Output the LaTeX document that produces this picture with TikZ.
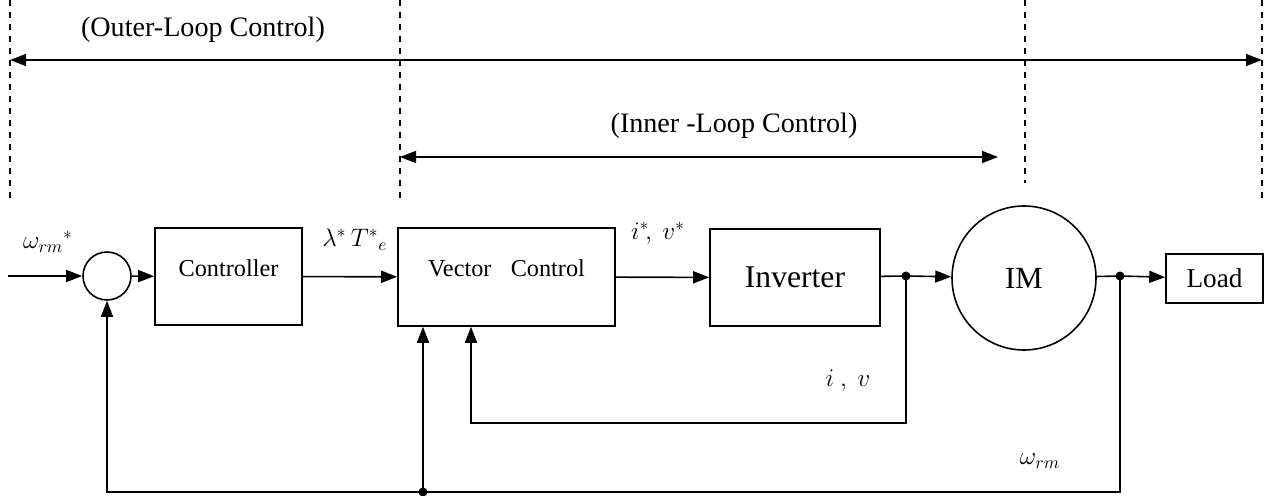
\documentclass[tikz,border=0pt]{standalone}
\usepackage{fontspec}
\setmainfont{Liberation Serif}
\usetikzlibrary{arrows.meta}
\tikzset{%
	block/.style    = {draw, rectangle, line width=0.9pt, inner sep=0pt, text centered},
	sumnode/.style  = {draw, circle, line width=0.9pt, minimum size=9.6mm, inner sep=0pt},
	motor/.style    = {draw, circle, line width=0.9pt, minimum size=28.8mm, inner sep=0pt},
	arrow/.style    = {line width=0.9pt, -{Triangle[length=3.2mm,width=2.4mm]}},
	span/.style     = {line width=0.9pt, {Triangle[length=3.2mm,width=2.4mm]}-{Triangle[length=3.2mm,width=2.4mm]}},
	guide/.style    = {line width=0.8pt, dash pattern=on 1.2mm off 1.2mm},
	dot/.style      = {circle, fill, inner sep=0pt, minimum size=1.8mm},
	sig/.style      = {font=\fontsize{14}{16}\selectfont, inner sep=1pt},
}
\newcommand{\Wrm}{\omega_{rm}}

\begin{document}
\begin{tikzpicture}[x=0.2mm,y=-0.2mm]
	\useasboundingbox (0,0) rectangle (1273,496);
	
	% loop ranges
	\foreach \gx/\gy/\gname in {10/200/ga,400/200/gb,1025/183/gc,1262/200/gd} {
		\coordinate (\gname top) at (\gx,0);
		\coordinate (\gname bot) at (\gx,\gy);
		\draw[guide] (\gname top) -- (\gname bot);
	}
	\coordinate (outl) at (10,60);
	\coordinate (outr) at (1262,60);
	\coordinate (innl) at (400,157);
	\coordinate (innr) at (998,157);
	\draw[span] (outl) -- (outr);
	\draw[span] (innl) -- (innr);
	\node[font=\fontsize{16}{19}\selectfont] (outtxt) at (203,30) {(Outer-Loop Control)};
	\node[font=\fontsize{16}{19}\selectfont] (inntxt) at (734,126) {(Inner -Loop Control)};
	
	% blocks
	\coordinate (in) at (8,276);
	\node[sumnode] (sum) at (107,276) {};
	\node[block, minimum width=29.4mm, minimum height=19.4mm, text height=2.5mm, text depth=2.5mm, font=\fontsize{13.8}{16}\selectfont] (ctrl) at (228.5,276.5) {Controller};
	\node[block, minimum width=43.4mm, minimum height=19.6mm, text height=2.5mm, text depth=2.5mm, font=\fontsize{13.8}{16}\selectfont] (vc) at (506.5,277) {Vector\hspace{11pt}Control};
	\node[block, minimum width=34mm, minimum height=19.4mm, font=\fontsize{18}{21}\selectfont] (inv) at (795,277.5) {Inverter};
	\node[motor, font=\fontsize{17.5}{20}\selectfont] (im) at (1024,278) {IM};
	\node[block, minimum width=19.4mm, minimum height=9.8mm, font=\fontsize{15.5}{18}\selectfont] (load) at (1214.5,278.5) {Load};
	\node[dot] (j1) at (906,276) {};
	\node[dot] (j2) at (1120,276) {};
	\node[dot] (j3) at (423,492) {};
	\coordinate (ivturn) at (471,423);
	
	% forward path
	\draw[arrow] (in) -- (sum);
	\draw[arrow] (sum) -- (ctrl);
	\draw[arrow] (ctrl) -- (vc);
	\draw[arrow] (vc) -- (inv);
	\draw[line width=0.9pt] (inv) -- (j1.center);
	\draw[arrow] (j1.center) -- (im);
	\draw[line width=0.9pt] (im) -- (j2.center);
	\draw[arrow] (j2.center) -- (load);
	
	% feedback
	\draw[arrow] (j1.center) |- (ivturn) -- (ivturn |- vc.south);
	\draw[arrow] (j2.center) |- (j3.center) -| (sum.south);
	\draw[arrow] (j3.center) -- (j3 |- vc.south);
	
	% signals
	\node[sig] (wref) at (48,242) {$\Wrm{}^{*}$};
	\node[sig] (ltref) at (355,240) {$\lambda^{*}\,T^{*}{}_{e}$};
	\node[sig] (ivref) at (658,233) {$i^{*}\!,\ v^{*}$};
	\node[sig] (ivmeas) at (848,381) {$i\ ,\ v$};
	\node[sig] (wmeas) at (1040,461) {$\Wrm$};
\end{tikzpicture}
\end{document}
